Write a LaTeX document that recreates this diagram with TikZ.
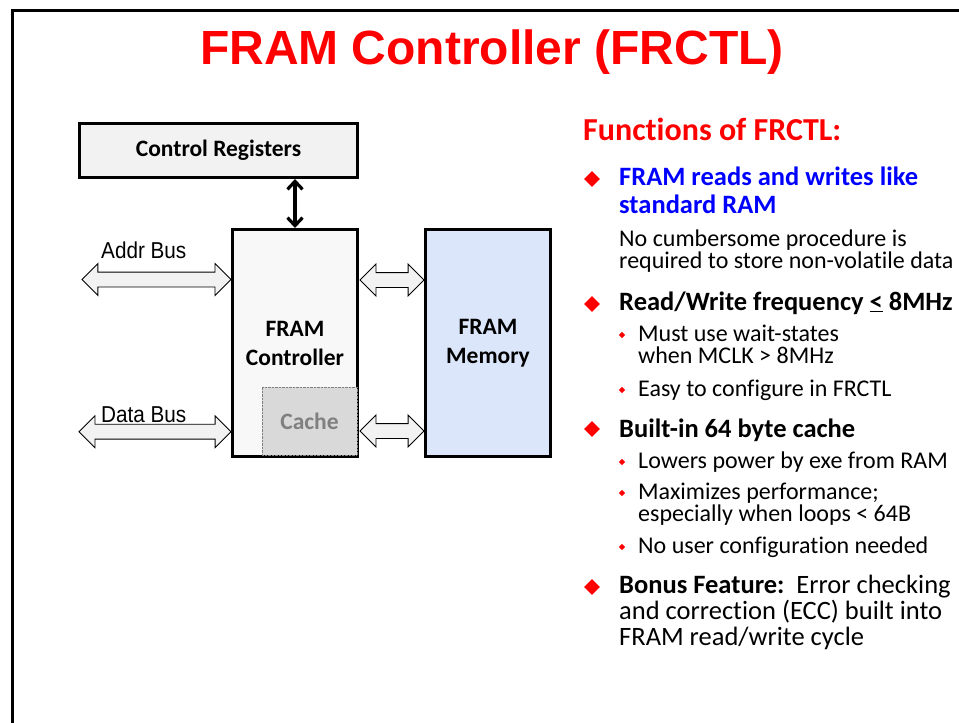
\documentclass[tikz,border=0pt]{standalone}
\usepackage{fontspec}
\setmainfont{Carlito}[Ligatures={NoCommon,NoRequired,NoContextual}]
\newfontfamily\arialfont{Liberation Sans}
\newfontfamily\narrowfont[FakeStretch=0.9]{Liberation Sans}
\usetikzlibrary{arrows.meta,positioning,shapes.geometric,shapes.arrows}
\definecolor{boxgray}{HTML}{F2F2F2}
\definecolor{ctrlgray}{HTML}{F8F8F8}
\definecolor{cachegray}{HTML}{D9D9D9}
\definecolor{memblue}{HTML}{DCE6FA}
\definecolor{slidered}{HTML}{FF0000}
\definecolor{slideblue}{HTML}{0000FF}
\newcommand{\tightlines}{\lineskiplimit=-20pt\relax}

\begin{document}
\begin{tikzpicture}[
    x=1pt, y=-1pt,
    block/.style={draw, line width=3pt, align=center, inner sep=0pt, font=\fontsize{23.5}{29}\selectfont\bfseries},
    bus/.style={draw, double arrow, double arrow head extend=8.5pt, inner xsep=0pt, inner ysep=7pt, line width=0.9pt, fill=boxgray},
    buslabel/.style={anchor=base west, inner sep=0pt, font=\narrowfont\fontsize{23}{23}\selectfont},
    link/.style={{Straight Barb[length=8pt,width=15pt]}-{Straight Barb[length=8pt,width=15pt]}, line width=3.2pt},
    bigdot/.style={diamond, fill=slidered, inner sep=0pt, minimum size=16pt},
    smalldot/.style={diamond, fill=slidered, inner sep=0pt, minimum size=6.5pt},
    lvlone/.style={anchor=base west, inner sep=0pt, align=left, font=\fontsize{26.5}{28}\selectfont\bfseries\tightlines},
    txt/.style={anchor=base west, inner sep=0pt, align=left, font=\fontsize{24}{21.5}\selectfont\tightlines}
]
\useasboundingbox (0,0) rectangle (959,723);
\draw[line width=3pt] (12,723) -- (12,10) -- (959,10);
\node[anchor=base, text=slidered, font=\arialfont\bfseries\fontsize{48}{48}\selectfont] (title) at (492,64) {FRAM Controller (FRCTL)};

% block diagram
\node[block, fill=boxgray, minimum width=278pt, minimum height=54pt] (regs) at (218.5,150.5) {Control Registers};
\node[block, fill=ctrlgray, minimum width=125pt, minimum height=227pt] (ctrl) at (295,343) {FRAM\\Controller};
\node[block, fill=memblue, minimum width=125pt, minimum height=227pt, right=65pt of ctrl] (mem) {FRAM\\Memory};
\node[draw=gray, densely dotted, fill=cachegray, text=gray, font=\fontsize{23.5}{23.5}\selectfont\bfseries, minimum width=95pt, minimum height=68pt, inner sep=0pt] (cache) at (309.5,421) {Cache};
\draw[link] (ctrl.north |- regs.south) -- (ctrl.north);
\node[bus, minimum height=149pt] (addr) at (156.4,279.5) {};
\node[bus, minimum height=152pt] (data) at (155,431.7) {};
\node[bus, minimum height=64pt] (upper) at (392,280) {};
\node[bus, minimum height=64pt] (lower) at (392,431) {};
\node[buslabel] (addrlbl) at (101,258) {Addr Bus};
\node[buslabel] (datalbl) at (101,422) {Data Bus};

% functions list (multi-line nodes sit on their last baseline)
\node[anchor=base west, inner sep=0pt, text=slidered, font=\fontsize{32}{32}\selectfont\bfseries] (fun) at (583,140) {Functions of FRCTL:};
\node[bigdot] (d1) at (592,179) {};
\node[lvlone, text=slideblue] (t1a) at (619,213) {FRAM reads and writes like\\standard RAM};
\node[txt] (t1c) at (619,268) {No cumbersome procedure is\\required to store non-volatile data};
\node[bigdot] (d2) at (592,304) {};
\node[lvlone] (t2a) at (619,310) {Read/Write frequency \underline{<} 8MHz};
\node[smalldot] (s1) at (622,335) {};
\node[txt] (t2b) at (638,363) {Must use wait-states\\when MCLK > 8MHz};
\node[smalldot] (s2) at (622,390) {};
\node[txt] (t2d) at (638,396) {Easy to configure in FRCTL};
\node[bigdot] (d3) at (592,429) {};
\node[lvlone] (t3a) at (619,437) {Built-in 64 byte cache};
\node[smalldot] (s3) at (622,462) {};
\node[txt] (t3b) at (638,468) {Lowers power by exe from RAM};
\node[smalldot] (s4) at (622,493) {};
\node[txt] (t3c) at (638,521) {Maximizes performance;\\especially when loops < 64B};
\node[smalldot] (s5) at (622,547) {};
\node[txt] (t3e) at (638,553) {No user configuration needed};
\node[bigdot] (d4) at (592,587) {};
\node[txt, font=\fontsize{26.5}{26}\selectfont\tightlines] (t4a) at (619,645) {\textbf{Bonus Feature:}\ \ Error checking\\and correction (ECC) built into\\FRAM read/write cycle};
\end{tikzpicture}
\end{document}
